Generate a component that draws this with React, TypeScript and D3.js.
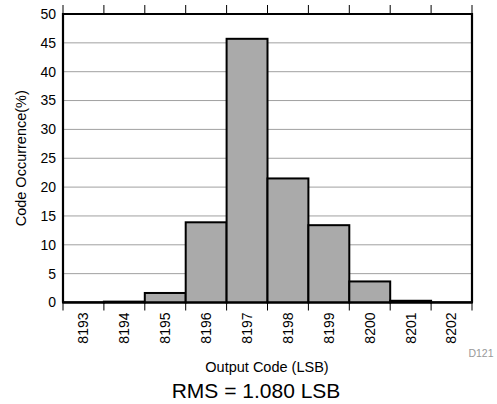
import React from "react";
import * as d3 from "d3";

const categories = ["8193", "8194", "8195", "8196", "8197", "8198", "8199", "8200", "8201", "8202"];
const values = [0.05, 0.15, 1.65, 13.9, 45.7, 21.5, 13.4, 3.65, 0.3, 0.05];
const yTicks = [0, 5, 10, 15, 20, 25, 30, 35, 40, 45, 50];

const W = 497;
const H = 404;
const M = { left: 63, right: 472, top: 14, bottom: 302.5 };
const FONT = "'Liberation Sans', Arial, Helvetica, sans-serif";

export default function App() {
  const x = d3.scaleBand<string>().domain(categories).range([M.left, M.right]).padding(0);
  const y = d3.scaleLinear().domain([0, 50]).range([M.bottom, M.top]);
  const bw = x.bandwidth();
  const edges = d3.range(categories.length + 1).map((i) => M.left + i * bw);

  return (
    <svg
      width={W}
      height={H}
      style={{ position: "absolute", left: 0, top: 0, background: "#fff" }}
      fontFamily={FONT}
    >
      {/* grid */}
      {yTicks.slice(1, -1).map((t) => (
        <line key={"g" + t} x1={M.left} x2={M.right} y1={y(t)} y2={y(t)} stroke="#a0a0a0" strokeWidth={1} />
      ))}
      {/* bars */}
      {categories.map((c, i) => (
        <rect
          key={c}
          x={x(c)!}
          y={y(values[i])}
          width={bw}
          height={M.bottom - y(values[i])}
          fill="#aaaaaa"
          stroke="#000"
          strokeWidth={2}
        />
      ))}
      {/* frame: left, top, right */}
      <path
        d={`M${M.left},${M.bottom}V${M.top}H${M.right}V${M.bottom}`}
        fill="none"
        stroke="#000"
        strokeWidth={2.2}
      />
      <line x1={M.left} x2={M.right} y1={M.bottom} y2={M.bottom} stroke="#000" strokeWidth={2} />
      {/* ticks top & bottom */}
      {edges.map((e, i) => (
        <g key={"t" + i}>
          <line x1={e} x2={e} y1={M.top} y2={M.top - 9} stroke="#000" strokeWidth={1} />
          <line x1={e} x2={e} y1={M.bottom} y2={M.bottom + 8} stroke="#000" strokeWidth={1} />
        </g>
      ))}
      {/* y tick labels */}
      {yTicks.map((t) => (
        <text key={"y" + t} x={56} y={y(t)} dy="0.35em" textAnchor="end" fontSize={14} fill="#000">
          {t}
        </text>
      ))}
      {/* x tick labels */}
      {categories.map((c) => (
        <text
          key={"x" + c}
          transform={`translate(${x(c)! + bw / 2},${M.bottom + 10}) rotate(-90)`}
          textAnchor="end"
          dy="0.35em"
          fontSize={14}
          fill="#000"
        >
          {c}
        </text>
      ))}
      {/* axis titles */}
      <text
        transform={`translate(21,${(M.top + M.bottom) / 2}) rotate(-90)`}
        textAnchor="middle"
        dy="0.35em"
        fontSize={14.5}
        fill="#000"
      >
        Code Occurrence(%)
      </text>
      <text x={267} y={372} textAnchor="middle" fontSize={14.5} fill="#000">
        Output Code (LSB)
      </text>
      <text x={256} y={398} textAnchor="middle" fontSize={21} fill="#000">
        RMS = 1.080 LSB
      </text>
      <text x={481} y={357} textAnchor="middle" fontSize={10.5} fill="#999">
        D121
      </text>
    </svg>
  );
}
